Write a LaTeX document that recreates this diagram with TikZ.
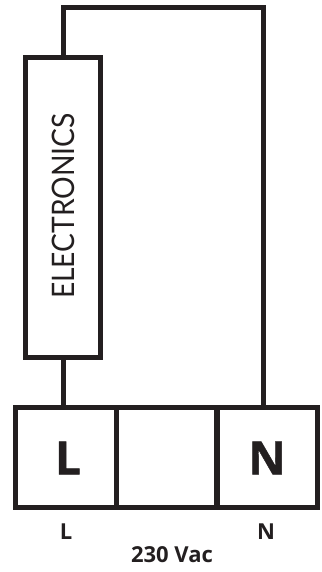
\documentclass[tikz,border=0pt]{standalone}
\usepackage{fontspec}
\setmainfont{Open Sans}
\newfontfamily\elecfont[FakeStretch=0.91]{Lato}
\newfontfamily\heavyfont[UprightFont=* Bold,FakeBold=0.8]{Open Sans}
\definecolor{wirecol}{HTML}{231F20}
\tikzset{
  box/.style={draw=wirecol, line width=5pt, outer sep=0pt, inner sep=0pt, text=wirecol},
  cell/.style={box, minimum width=101pt, minimum height=100pt},
  wire/.style={draw=wirecol, line width=5pt},
  termlabel/.style={inner sep=0pt, text=wirecol, font=\fontsize{46}{50}\heavyfont\selectfont},
  pinlabel/.style={inner sep=0pt, text=wirecol, font=\fontsize{22}{24}\selectfont\bfseries}
}
\begin{document}
\begin{tikzpicture}[x=1pt,y=-1pt]
\useasboundingbox (0,0) rectangle (321,572);
\node[box, minimum width=75pt, minimum height=300pt] (elec) at (63.3,207.5) {};
\node[inner sep=0pt, text=wirecol, rotate=90, font=\fontsize{31}{36}\elecfont\selectfont] (electext) at (63,206) {ELECTRONICS};
\node[cell] (cellL) at (65.9,457.5) {};
\node[cell] (cellM) at (166.5,457.5) {};
\node[cell] (cellN) at (267.1,457.5) {};
\node[termlabel] (termL) at (68,458) {L};
\node[termlabel] (termN) at (267,458) {N};
\node[pinlabel] (pinL) at (66,532) {L};
\node[pinlabel] (pinN) at (266,532) {N};
\node[pinlabel] (supply) at (172,555) {230 Vac};
\coordinate (topL) at (63.3,7.7);
\coordinate (topR) at (263.5,7.7);
\coordinate (botR) at (263.5,407.5);
\path[wire] (elec.south) -- (elec.south |- cellL.north);
\path[wire, line join=miter] (elec.north) -- (topL) -- (topR) -- (botR);
\end{tikzpicture}
\end{document}
